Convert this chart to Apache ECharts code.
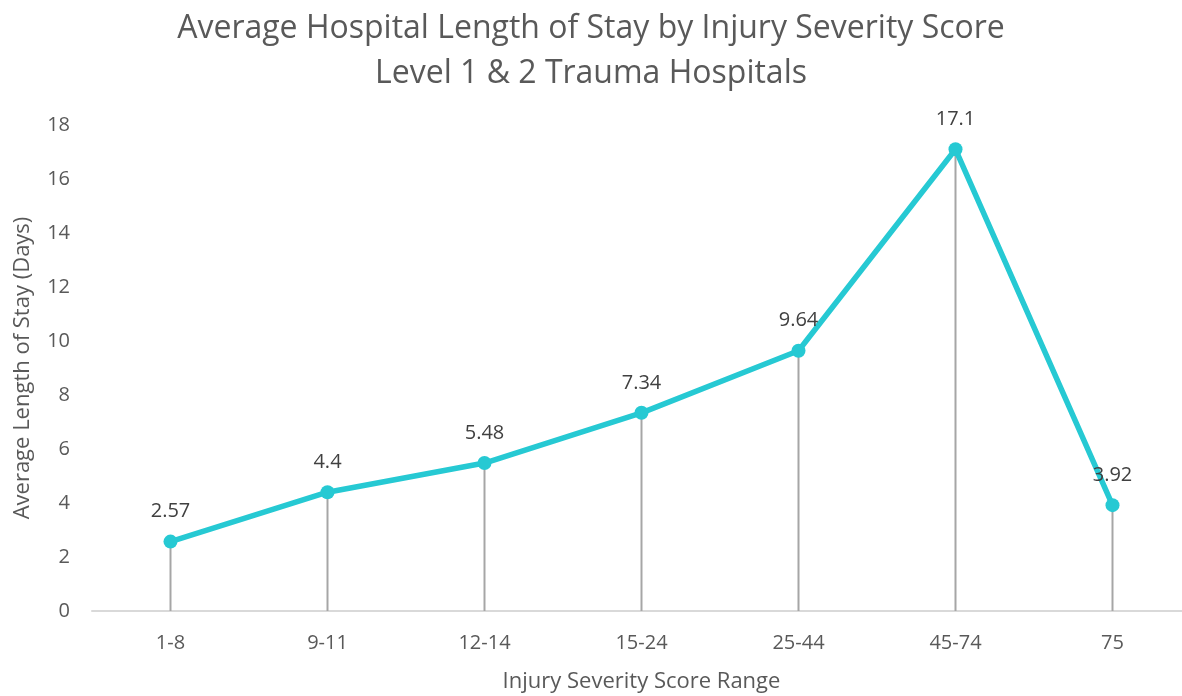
<!DOCTYPE html>
<html><head><meta charset="utf-8">
<script src="https://cdn.jsdelivr.net/npm/echarts@6/dist/echarts.min.js"></script>
<style>html,body{margin:0;padding:0;background:#fff}#c{width:1182px;height:696px}</style>
</head><body><div id="c"></div>
<script>
const categories = ['1-8','9-11','12-14','15-24','25-44','45-74','75'];
const avgStay = [2.57, 4.4, 5.48, 7.34, 9.64, 17.1, 3.92];
const yTicks = {min: 0, max: 18, interval: 2};
const titleText = 'Average Hospital Length of Stay by Injury Severity Score\nLevel 1 & 2 Trauma Hospitals';
const xName = 'Injury Severity Score Range';
const yName = 'Average Length of Stay (Days)';

const FONT = '"Open Sans", "Noto Sans", sans-serif';
const chart = echarts.init(document.getElementById('c'));
chart.setOption({
  animation: false,
  title: {
    text: titleText, left: 'center', top: 1,
    textStyle: {fontFamily: FONT, fontSize: 32, fontWeight: 'normal', color: '#595959', lineHeight: 45}
  },
  grid: {left: 92, width: 1099, top: 125, bottom: 85, containLabel: false, outerBoundsMode: 'none'},
  xAxis: {
    type: 'category', data: categories, boundaryGap: true,
    axisLine: {lineStyle: {color: '#d9d9d9', width: 2}},
    axisTick: {show: false},
    axisLabel: {fontFamily: FONT, fontSize: 20, color: '#595959', margin: 22},
    name: xName, nameLocation: 'middle', nameGap: 60,
    nameTextStyle: {fontFamily: FONT, fontSize: 22, color: '#595959'}
  },
  yAxis: {
    type: 'value', min: yTicks.min, max: yTicks.max, interval: yTicks.interval,
    splitLine: {show: false}, axisLine: {show: false}, axisTick: {show: false},
    axisLabel: {fontFamily: FONT, fontSize: 20, color: '#595959', margin: 22},
    name: yName, nameLocation: 'middle', nameGap: 58, nameRotate: 90,
    nameTextStyle: {fontFamily: FONT, fontSize: 22, color: '#595959'}
  },
  series: [
    {
      type: 'bar', data: avgStay, barWidth: 2, silent: true,
      itemStyle: {color: '#a6a6a6'}, z: 1
    },
    {
      type: 'line', data: avgStay, symbol: 'circle', symbolSize: 14,
      lineStyle: {color: '#26C9D3', width: 5.5},
      itemStyle: {color: '#26C9D3'}, z: 3,
      label: {show: true, position: 'top', distance: 13, fontFamily: FONT, fontSize: 20, color: '#404040'}
    }
  ]
});
</script></body></html>
